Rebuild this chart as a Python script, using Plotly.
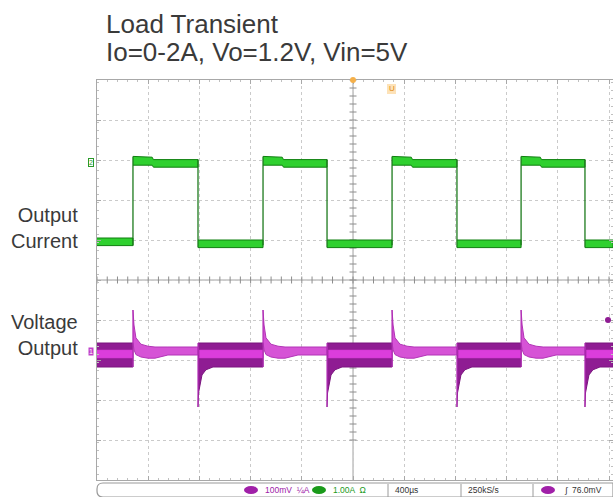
import plotly.graph_objects as go

# ---------------- data ----------------
# time axis in microseconds (400 us / div), load steps 0 A <-> 2 A
RISE_US = [281, 1297, 2305, 3313]      # load current steps up (0 -> 2 A)
FALL_US = [789, 1797, 2812, 3812]      # load current steps down (2 -> 0 A)
T_END = 4031                           # right edge of the captured screen

# Output current envelope (A); times relative to the preceding edge
I_START_T = [0, 281]
I_START_HI = [0.10, 0.10]
I_START_LO = [-0.09, -0.09]
I_HIGH_T = [0, 150, 160, 520]
I_HIGH_HI = [2.14, 2.12, 2.06, 2.06]
I_HIGH_LO = [1.92, 1.92, 1.87, 1.87]
I_LOW_T = [0, 520]
I_LOW_HI = [0.05, 0.11]
I_LOW_LO = [-0.14, -0.08]

# Output voltage envelope (V); times relative to the preceding edge
V_START_T = [0, 281]
V_START_HI = [1.225, 1.225]
V_START_LO = [1.165, 1.165]
V_HIGH_T = [0, 8, 23, 62, 117, 172, 273, 520]
V_HIGH_HI = [1.3075, 1.270, 1.238, 1.222, 1.217, 1.215, 1.215, 1.215]
V_HIGH_LO = [1.225, 1.208, 1.196, 1.190, 1.187, 1.187, 1.195, 1.195]
V_LOW_T = [0, 4, 16, 31, 62, 117, 520]
V_LOW_HI = [1.225, 1.225, 1.225, 1.225, 1.225, 1.225, 1.225]
V_LOW_LO = [1.065, 1.100, 1.120, 1.145, 1.158, 1.165, 1.165]
V_CORE_HI = 1.2075
V_CORE_LO = 1.1875

TITLE_1 = "Load Transient"
TITLE_2 = "Io=0-2A, Vo=1.2V, Vin=5V"
LABEL_I = "Output<br>Current"
LABEL_V = "Voltage<br>Output"
STATUS = ["100mV  ¼A", "1.00A  Ω", "400µs", "250kS/s", "∫  76.0mV"]

# ---------------- helpers ----------------
W, H = 613, 497
ML, MT, MB = 97, 80, 17
PW, PH = W - ML, H - MT - MB


def px(x):
    return (x - ML) / PW


def py(y):
    return (H - MB - y) / PH


edges = sorted([(t, "high") for t in RISE_US] + [(t, "low") for t in FALL_US])
segments = [(0, edges[0][0], "start")]
for i, (t, kind) in enumerate(edges):
    end = edges[i + 1][0] if i + 1 < len(edges) else T_END
    segments.append((t, end, kind))


def band(start, end, rel_t, hi, lo):
    ts, hs, ls = [], [], []
    for t, h, l in zip(rel_t, hi, lo):
        if start + t < end:
            ts.append(start + t)
            hs.append(h)
            ls.append(l)
    ts.append(end)
    hs.append(hs[-1])
    ls.append(ls[-1])
    return ts + ts[::-1] + [None], hs + ls[::-1] + [None]


I_SETS = {"start": (I_START_T, I_START_HI, I_START_LO),
          "high": (I_HIGH_T, I_HIGH_HI, I_HIGH_LO),
          "low": (I_LOW_T, I_LOW_HI, I_LOW_LO)}
V_SETS = {"start": (V_START_T, V_START_HI, V_START_LO),
          "high": (V_HIGH_T, V_HIGH_HI, V_HIGH_LO),
          "low": (V_LOW_T, V_LOW_HI, V_LOW_LO)}

ix, iy = [], []
vx_dark, vy_dark, vx_lite, vy_lite, cx, cy = [], [], [], [], [], []
iex, iey, vex, vey = [], [], [], []
prev_i = prev_v = None
for s, e, kind in segments:
    x, y = band(s, e, *I_SETS[kind])
    ix += x
    iy += y
    x, y = band(s, e, *V_SETS[kind])
    if kind == "high":
        vx_lite += x
        vy_lite += y
    else:
        vx_dark += x
        vy_dark += y
        core_t = [10, e - s] if kind == "low" else [0, e - s]
        x2, y2 = band(s, e, core_t, [V_CORE_HI] * 2, [V_CORE_LO] * 2)
        cx += x2
        cy += y2
    if prev_i is not None:
        hi_i = max(I_SETS[kind][1][0], prev_i[0])
        lo_i = min(I_SETS[kind][2][0], prev_i[1])
        iex += [s, s, None]
        iey += [lo_i, hi_i, None]
        vex += [s, s, None]
        vey += [min(V_SETS[kind][2][0], prev_v[1]), max(V_SETS[kind][1][0], prev_v[0]), None]
    prev_i = (I_SETS[kind][1][-1], I_SETS[kind][2][-1])
    prev_v = (V_SETS[kind][1][-1], V_SETS[kind][2][-1])

fig = go.Figure()

GRID = "#cacaca"
# crosshair tick marks along the centre lines
cross_x = [t * 80 for t in range(0, 51)]
cross_y = [-4.95 + k * 0.2 for k in range(0, 51)]
fig.add_trace(go.Scatter(x=cross_x, y=[-0.95] * len(cross_x), mode="markers",
                         marker=dict(symbol="line-ns", size=5, line=dict(color="#8c8c8c", width=1)),
                         hoverinfo="skip", showlegend=False))
fig.add_trace(go.Scatter(x=[2000] * len(cross_y), y=cross_y, mode="markers",
                         marker=dict(symbol="line-ew", size=5, line=dict(color="#8c8c8c", width=1)),
                         hoverinfo="skip", showlegend=False))

# current (green)
fig.add_trace(go.Scatter(x=ix, y=iy, mode="lines", fill="toself", fillcolor="#2fd02f",
                         line=dict(color="#0f7f0f", width=1), hoverinfo="skip", showlegend=False))
fig.add_trace(go.Scatter(x=iex, y=iey, mode="lines", line=dict(color="#1c7a1c", width=1.3),
                         hoverinfo="skip", showlegend=False))

# voltage (magenta) on second axis
fig.add_trace(go.Scatter(x=vx_dark, y=vy_dark, mode="lines", fill="toself", fillcolor="#8f1c93",
                         line=dict(color="#7a157e", width=1), yaxis="y2",
                         hoverinfo="skip", showlegend=False))
fig.add_trace(go.Scatter(x=cx, y=cy, mode="lines", fill="toself", fillcolor="#dc3ddc",
                         line=dict(color="#d13bd1", width=0.5), yaxis="y2",
                         hoverinfo="skip", showlegend=False))
fig.add_trace(go.Scatter(x=vx_lite, y=vy_lite, mode="lines", fill="toself", fillcolor="#d653d6",
                         line=dict(color="#b235b6", width=1), yaxis="y2",
                         hoverinfo="skip", showlegend=False))
fig.add_trace(go.Scatter(x=vex, y=vey, mode="lines", line=dict(color="#b02cb4", width=1.2),
                         yaxis="y2", hoverinfo="skip", showlegend=False))

axis_common = dict(showticklabels=False, zeroline=False, showline=True, linecolor="#a8a8a8",
                   linewidth=1, mirror="ticks", ticks="inside", ticklen=4, tickcolor="#a8a8a8",
                   showgrid=True, gridcolor=GRID, griddash="dot", gridwidth=1)

fig.update_layout(
    width=W, height=H,
    margin=dict(l=ML, r=0, t=MT, b=MB),
    paper_bgcolor="white", plot_bgcolor="white",
    font=dict(family="Liberation Sans, Arial, sans-serif", color="#3a3a3a"),
    xaxis=dict(range=[0, T_END], tick0=0, dtick=400,
               minor=dict(ticks="inside", ticklen=2, dtick=80, tickcolor="#c0c0c0", showgrid=False),
               **axis_common),
    yaxis=dict(range=[-5.95, 4.05], tick0=0.05, dtick=1,
               minor=dict(ticks="inside", ticklen=2, dtick=0.2, tickcolor="#c0c0c0", showgrid=False),
               **axis_common),
    yaxis2=dict(range=[0.8825, 1.8825], overlaying="y", showticklabels=False, showgrid=False,
                zeroline=False, showline=False),
    shapes=[
        dict(type="line", xref="x", yref="paper", x0=2000, x1=2000, y0=0, y1=1,
             line=dict(color="#a0a0a0", width=1), layer="below"),
        dict(type="line", xref="paper", yref="y", x0=0, x1=1, y0=-0.95, y1=-0.95,
             line=dict(color="#a0a0a0", width=1), layer="below"),
        # status bar frame
        dict(type="path", xref="paper", yref="paper",
             path=f"M {px(103)},{py(483)} L {px(613)},{py(483)} L {px(613)},{py(497)} "
                  f"L {px(103)},{py(497)} Q {px(97)},{py(497)} {px(97)},{py(491)} "
                  f"L {px(97)},{py(489)} Q {px(97)},{py(483)} {px(103)},{py(483)} Z",
             line=dict(color="#9a9a9a", width=1.2), fillcolor="white"),
        dict(type="line", xref="paper", yref="paper", x0=px(388), x1=px(388), y0=py(484), y1=py(497),
             line=dict(color="#9a9a9a", width=1)),
        dict(type="line", xref="paper", yref="paper", x0=px(461), x1=px(461), y0=py(484), y1=py(497),
             line=dict(color="#9a9a9a", width=1)),
        dict(type="line", xref="paper", yref="paper", x0=px(533), x1=px(533), y0=py(484), y1=py(497),
             line=dict(color="#9a9a9a", width=1)),
        # channel ovals in status bar
        dict(type="circle", xref="paper", yref="paper", x0=px(244), x1=px(258), y0=py(494), y1=py(486),
             fillcolor="#a020a8", line=dict(width=0)),
        dict(type="circle", xref="paper", yref="paper", x0=px(312), x1=px(326), y0=py(494), y1=py(486),
             fillcolor="#1a9a1a", line=dict(width=0)),
        dict(type="circle", xref="paper", yref="paper", x0=px(541), x1=px(555), y0=py(494), y1=py(486),
             fillcolor="#a020a8", line=dict(width=0)),
        # trigger / position markers
        dict(type="rect", xref="paper", yref="paper", x0=px(387), x1=px(396), y0=py(94), y1=py(84),
             fillcolor="#fde2b8", line=dict(width=0)),
        dict(type="circle", xref="paper", yref="paper", x0=px(350), x1=px(356), y0=py(83), y1=py(77),
             fillcolor="#f5b04a", line=dict(width=0)),
        dict(type="circle", xref="paper", yref="paper", x0=px(605), x1=px(611), y0=py(323), y1=py(317),
             fillcolor="#8f1c93", line=dict(width=0)),
    ],
)

ann = [
    dict(x=px(104), y=py(24), text=TITLE_1, xanchor="left", yanchor="middle",
         font=dict(size=26, color="#3a3a3a")),
    dict(x=px(104), y=py(52), text=TITLE_2, xanchor="left", yanchor="middle",
         font=dict(size=26, color="#3a3a3a")),
    dict(x=px(80), y=py(228), text=LABEL_I, xanchor="right", yanchor="middle", align="right",
         font=dict(size=20, color="#3a3a3a")),
    dict(x=px(80), y=py(335), text=LABEL_V, xanchor="right", yanchor="middle", align="right",
         font=dict(size=20, color="#3a3a3a")),
    dict(x=px(391.5), y=py(89), text="U", xanchor="center", yanchor="middle",
         font=dict(size=8, color="#e08a10")),
    dict(x=px(91), y=py(162), text="2", xanchor="center", yanchor="middle",
         font=dict(size=7, color="#2a9a2a"), bordercolor="#2a9a2a", borderwidth=1, borderpad=0),
    dict(x=px(91), y=py(351), text="1", xanchor="center", yanchor="middle",
         font=dict(size=7, color="#ffffff"), bgcolor="#c040c8", borderpad=0),
    dict(x=px(263), y=py(490), text=STATUS[0], xanchor="left", yanchor="middle",
         font=dict(size=8.5, color="#a020a8")),
    dict(x=px(331), y=py(490), text=STATUS[1], xanchor="left", yanchor="middle",
         font=dict(size=8.5, color="#1a9a1a")),
    dict(x=px(393), y=py(490), text=STATUS[2], xanchor="left", yanchor="middle",
         font=dict(size=8.5, color="#333333")),
    dict(x=px(466), y=py(490), text=STATUS[3], xanchor="left", yanchor="middle",
         font=dict(size=8.5, color="#333333")),
    dict(x=px(562), y=py(490), text=STATUS[4], xanchor="left", yanchor="middle",
         font=dict(size=8.5, color="#333333")),
]
for a in ann:
    a.update(xref="paper", yref="paper", showarrow=False)
fig.update_layout(annotations=ann)

fig.write_html("out.html",
               config={"displayModeBar": False},
               post_script="document.body.style.margin='0px';"
                           "document.body.style.overflow='hidden';")
